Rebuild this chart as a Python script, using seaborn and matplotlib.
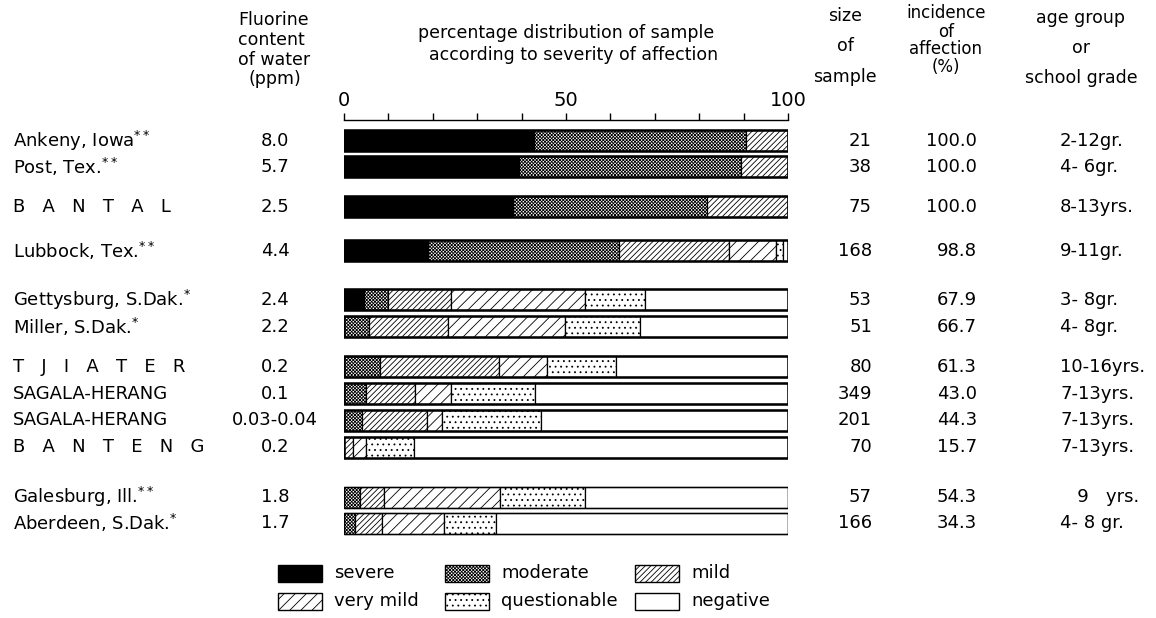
import matplotlib
matplotlib.use("Agg")
import matplotlib.pyplot as plt
import seaborn as sns
from matplotlib.patches import Rectangle

# ---------------- data ----------------
locations = ["Ankeny, Iowa$^{**}$", "Post, Tex.$^{**}$", "B   A   N   T   A   L",
             "Lubbock, Tex.$^{**}$", "Gettysburg, S.Dak.$^{*}$", "Miller, S.Dak.$^{*}$",
             "T   J   I   A   T   E   R", "SAGALA-HERANG", "SAGALA-HERANG",
             "B   A   N   T   E   N   G", "Galesburg, Ill.$^{**}$", "Aberdeen, S.Dak.$^{*}$"]
fluorine = ["8.0", "5.7", "2.5", "4.4", "2.4", "2.2", "0.2", "0.1", "0.03-0.04", "0.2", "1.8", "1.7"]
severe = [42.9, 39.5, 38.0, 19.0, 4.5, 0, 0, 0, 0, 0, 0, 0]
moderate = [47.6, 50.0, 43.7, 43.0, 5.5, 5.7, 8.1, 5.0, 4.0, 0, 3.5, 2.5]
mild = [9.5, 10.5, 18.3, 24.6, 14.1, 17.7, 26.9, 11.0, 14.8, 2.1, 5.4, 6.0]
very_mild = [0, 0, 0, 10.7, 30.2, 26.4, 10.7, 8.1, 3.2, 2.8, 26.2, 14.0]
questionable = [0, 0, 0, 1.5, 13.6, 16.9, 15.6, 18.9, 22.3, 10.8, 19.2, 11.8]
negative = [0, 0, 0, 1.2, 32.1, 33.3, 38.7, 57.0, 55.7, 84.3, 45.7, 65.7]
sample_size = ["21", "38", "75", "168", "53", "51", "80", "349", "201", "70", "57", "166"]
incidence = ["100.0", "100.0", "100.0", "98.8", "67.9", "66.7", "61.3", "43.0", "44.3", "15.7", "54.3", "34.3"]
age_group = ["2-12gr.", "4- 6gr.", "8-13yrs.", "9-11gr.", "3- 8gr.", "4- 8gr.", "10-16yrs.",
             "7-13yrs.", "7-13yrs.", "7-13yrs.", "   9   yrs.", "4- 8 gr."]
categories = ["severe", "moderate", "mild", "very mild", "questionable", "negative"]
tick_labels = ["0", "", "", "", "", "50", "", "", "", "", "100"]

# ---------------- layout / style ----------------
W, H = 1156, 618
row_y = [141, 167, 207, 251, 300, 327, 367, 394, 420, 447, 497, 523]
outline_lw = [1.8] * 10 + [1.0, 1.0]
styles = {
    "severe": dict(facecolor="black", hatch=None),
    "moderate": dict(facecolor="white", hatch="x" * 10),
    "mild": dict(facecolor="white", hatch="/" * 6),
    "very mild": dict(facecolor="white", hatch="///"),
    "questionable": dict(facecolor="white", hatch="..."),
    "negative": dict(facecolor="white", hatch=None),
}

sns.set_theme(style="white")
plt.rcParams["font.family"] = ["DejaVu Sans"]
plt.rcParams["hatch.linewidth"] = 0.6
plt.rcParams["hatch.color"] = "black"
plt.rcParams["text.color"] = "black"
plt.rcParams["xtick.color"] = "black"
plt.rcParams["xtick.labelcolor"] = "black"

fig = plt.figure(figsize=(W / 100, H / 100), dpi=100)
fig.patch.set_facecolor("white")

y_top, y_bot = 120, 540
ax = fig.add_axes([344 / W, (H - y_bot) / H, 444 / W, (y_bot - y_top) / H])
ax.set_xlim(0, 100)
ax.set_ylim(y_bot, y_top)

series = dict(zip(categories, [severe, moderate, mild, very_mild, questionable, negative]))
left = [0.0] * len(locations)
for cat in categories:
    vals = series[cat]
    st = styles[cat]
    ax.barh(row_y, vals, left=left, height=21, color=st["facecolor"], edgecolor="black",
            hatch=st["hatch"], linewidth=0.9)
    left = [l + v for l, v in zip(left, vals)]
# outer outline of each bar
for yy, lw, tot in zip(row_y, outline_lw, left):
    ax.barh([yy], [tot], height=21, fill=False, edgecolor="black", linewidth=lw)

for s in ["left", "right", "bottom"]:
    ax.spines[s].set_visible(False)
ax.spines["top"].set_color("black")
ax.spines["top"].set_linewidth(1.0)
ax.xaxis.tick_top()
ax.set_xticks(range(0, 101, 10))
ax.set_xticklabels(tick_labels, fontsize=14, color="black")
ax.tick_params(axis="x", direction="out", length=5, width=1, color="black", pad=2, top=True)
ax.set_yticks([])
ax.grid(False)

def fx(x):
    return x / W

def fy(y):
    return 1 - y / H

fs = 13
hs = 12.5
# headers
for txt, yy, xx in [("Fluorine", 20, 238), ("content", 40, 238), ("of water", 60, 238), ("(ppm)", 79, 248)]:
    fig.text(fx(xx), fy(yy), txt, ha="left", va="center", fontsize=hs)
fig.text(fx(566), fy(33), "percentage distribution of sample", ha="center", va="center", fontsize=hs)
fig.text(fx(574), fy(55), "according to severity of affection", ha="center", va="center", fontsize=hs)
for txt, yy in [("size", 16), ("of", 46), ("sample", 77)]:
    fig.text(fx(845), fy(yy), txt, ha="center", va="center", fontsize=hs)
for txt, yy in [("incidence", 13), ("of", 32), ("affection", 49), ("(%)", 67)]:
    fig.text(fx(946), fy(yy), txt, ha="center", va="center", fontsize=hs - 0.5)
for txt, yy in [("age group", 18), ("or", 48), ("school grade", 78)]:
    fig.text(fx(1081), fy(yy), txt, ha="center", va="center", fontsize=hs)

# row texts
for i, yy in enumerate(row_y):
    fig.text(fx(13), fy(yy), locations[i], ha="left", va="center", fontsize=fs)
    fig.text(fx(275), fy(yy), fluorine[i], ha="center", va="center", fontsize=fs)
    fig.text(fx(872), fy(yy), sample_size[i], ha="right", va="center", fontsize=fs)
    fig.text(fx(977), fy(yy), incidence[i], ha="right", va="center", fontsize=fs)
    fig.text(fx(1060), fy(yy), age_group[i], ha="left", va="center", fontsize=fs)

# legend
leg_pos = {"severe": (278, 565), "very mild": (278, 593), "moderate": (445, 565),
           "questionable": (445, 593), "mild": (635, 565), "negative": (635, 593)}
pw, ph = 44, 17
for cat in categories:
    x0, y0 = leg_pos[cat]
    st = styles[cat]
    r = Rectangle((fx(x0), fy(y0 + ph)), pw / W, ph / H, transform=fig.transFigure,
                  facecolor=st["facecolor"], edgecolor="black", hatch=st["hatch"], linewidth=1.0)
    fig.add_artist(r)
    fig.text(fx(x0 + pw + 12), fy(y0 + ph / 2), cat, ha="left", va="center", fontsize=fs)

fig.savefig("out.png", dpi=100, facecolor="white")
